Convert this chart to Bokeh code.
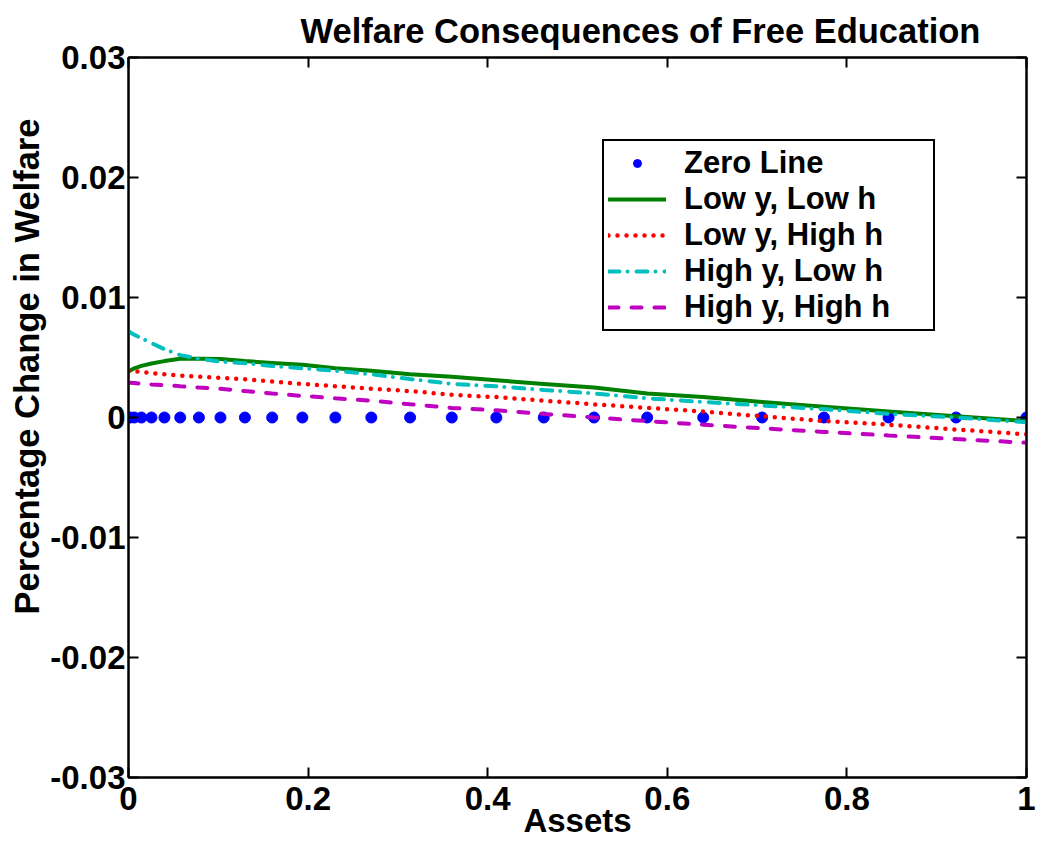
from bokeh.plotting import figure
from bokeh.models import Legend, LegendItem, LinearAxis, FixedTicker, Range1d, Title
from bokeh.embed import file_html
from bokeh.resources import INLINE

# ---- data ----
assets = [0.0, 0.0016, 0.0064, 0.0144, 0.0256, 0.04, 0.0576, 0.0784, 0.1024, 0.1296,
          0.16, 0.1936, 0.2304, 0.2704, 0.3136, 0.36, 0.4096, 0.4624, 0.5184, 0.5776,
          0.64, 0.7056, 0.7744, 0.8464, 0.9216, 1.0]
zero_line = [0.0, 0.0, 0.0, 0.0, 0.0, 0.0, 0.0, 0.0, 0.0, 0.0, 0.0, 0.0, 0.0,
             0.0, 0.0, 0.0, 0.0, 0.0, 0.0, 0.0, 0.0, 0.0, 0.0, 0.0, 0.0, 0.0]
low_y_low_h = [0.00385, 0.0039, 0.0041, 0.0043, 0.0045, 0.0047, 0.0049, 0.0049, 0.00488,
               0.0047, 0.00455, 0.0044, 0.0041, 0.0039, 0.0036, 0.0034, 0.0031, 0.0028,
               0.0025, 0.0020, 0.0017, 0.0013, 0.0009, 0.0005, 0.0001, -0.0003]
low_y_high_h = [0.0039, 0.00389, 0.00386, 0.0038, 0.0037, 0.0036, 0.0035, 0.0034, 0.0033,
                0.0032, 0.0030, 0.0028, 0.0026, 0.0024, 0.0022, 0.0019, 0.0017, 0.0014,
                0.0011, 0.0008, 0.0005, 0.0001, -0.0003, -0.0006, -0.0010, -0.0014]
high_y_low_h = [0.0072, 0.0071, 0.0069, 0.0066, 0.0062, 0.0057, 0.0052, 0.0049, 0.00465,
                0.00452, 0.0043, 0.0041, 0.0039, 0.0036, 0.0032, 0.0028, 0.0026, 0.0023,
                0.0020, 0.0016, 0.0013, 0.0010, 0.0007, 0.0003, 0.0000, -0.0004]
high_y_high_h = [0.0029, 0.0029, 0.00287, 0.0028, 0.00275, 0.0027, 0.0026, 0.0025, 0.0024,
                 0.0022, 0.0020, 0.0018, 0.0016, 0.0014, 0.0011, 0.0008, 0.0006, 0.0003,
                 0.0000, -0.0003, -0.0006, -0.0009, -0.0012, -0.0015, -0.0018, -0.0021]

series_names = ["Zero Line", "Low y, Low h", "Low y, High h", "High y, Low h", "High y, High h"]
x_ticks = [0, 0.2, 0.4, 0.6, 0.8, 1]
x_tick_labels = ["0", "0.2", "0.4", "0.6", "0.8", "1"]
y_ticks = [-0.03, -0.02, -0.01, 0, 0.01, 0.02, 0.03]
y_tick_labels = ["-0.03", "-0.02", "-0.01", "0", "0.01", "0.02", "0.03"]
title_text = "Welfare Consequences of Free Education"
x_label = "Assets"
y_label = "Percentage Change in Welfare"

FONT = "Liberation Sans"
FS = "33px"

p = figure(width=1037, height=841, output_backend="svg", toolbar_location=None,
           x_range=Range1d(0, 1), y_range=Range1d(-0.03, 0.03),
           min_border_left=128, min_border_right=11, min_border_top=57, min_border_bottom=63)

p.background_fill_color = "white"
p.border_fill_color = "white"
p.xgrid.visible = False
p.ygrid.visible = False
p.outline_line_color = "black"
p.outline_line_width = 2

# title
p.title.text = title_text
p.title.align = "left"
p.title.offset = 172
p.title.standoff = 16
p.title.text_font = FONT
p.title.text_font_size = "34.5px"
p.title.text_font_style = "bold"
p.title.text_color = "black"

# axes
for ax, ticks, labels in ((p.xaxis[0], x_ticks, x_tick_labels), (p.yaxis[0], y_ticks, y_tick_labels)):
    ax.ticker = FixedTicker(ticks=ticks)
    ax.major_label_overrides = {t: l for t, l in zip(ticks, labels)}
    ax.major_label_text_font = FONT
    ax.major_label_text_font_size = FS
    ax.major_label_text_font_style = "bold"
    ax.major_label_text_color = "black"
    ax.major_tick_in = 10
    ax.major_tick_out = 0
    ax.minor_tick_line_color = None
    ax.axis_line_width = 2
    ax.major_tick_line_width = 2

p.xaxis.major_label_standoff = 9
p.yaxis.major_label_standoff = 3

p.xaxis.axis_label = x_label
p.xaxis.axis_label_standoff = -11
p.xaxis.axis_label_text_font = FONT
p.xaxis.axis_label_text_font_size = FS
p.xaxis.axis_label_text_font_style = "bold"
p.xaxis.axis_label_text_color = "black"

# y-axis title (placed along the axis like the reference)
p.add_layout(Title(text=y_label, align="left", offset=163, standoff=3,
                   text_font=FONT, text_font_size="34.5px", text_font_style="bold",
                   text_color="black"), "left")

# box ticks on top / right
for loc, ticks in (("above", x_ticks), ("right", y_ticks)):
    a = LinearAxis(ticker=FixedTicker(ticks=ticks), major_label_text_font_size="0px",
                   major_label_standoff=0, major_tick_in=10, major_tick_out=0,
                   minor_tick_line_color=None, axis_line_width=2, major_tick_line_width=2)
    a.major_label_overrides = {t: "" for t in ticks}
    p.add_layout(a, loc)

# series
r0 = p.scatter(assets, zero_line, marker="circle", size=11, color="#0000ff")
r1 = p.line(assets, low_y_low_h, line_color="#008000", line_width=4, line_cap="round", line_join="round")
r2 = p.line(assets, low_y_high_h, line_color="#ff0000", line_width=4.5, line_dash="0 9", line_cap="round")
r3 = p.line(assets, high_y_low_h, line_color="#00bfbf", line_width=4, line_dash="11 8 0 9", line_cap="round")
r4 = p.line(assets, high_y_high_h, line_color="#bf00bf", line_width=4, line_dash="10 13", line_cap="round")

legend = Legend(items=[LegendItem(label=n, renderers=[r]) for n, r in zip(series_names, [r0, r1, r2, r3, r4])],
                location=(474, 446), orientation="vertical",
                label_text_font=FONT, label_text_font_size="31px", label_text_font_style="bold",
                label_text_color="black", label_text_line_height=1.0,
                label_standoff=18, label_width=245, label_height=20, glyph_height=20,
                glyph_width=58, spacing=0, padding=4, margin=0,
                border_line_color="black", border_line_width=2, border_line_alpha=1,
                background_fill_color="white", background_fill_alpha=1)
p.add_layout(legend, "center")

open("out.html", "w").write(file_html(p, INLINE))
